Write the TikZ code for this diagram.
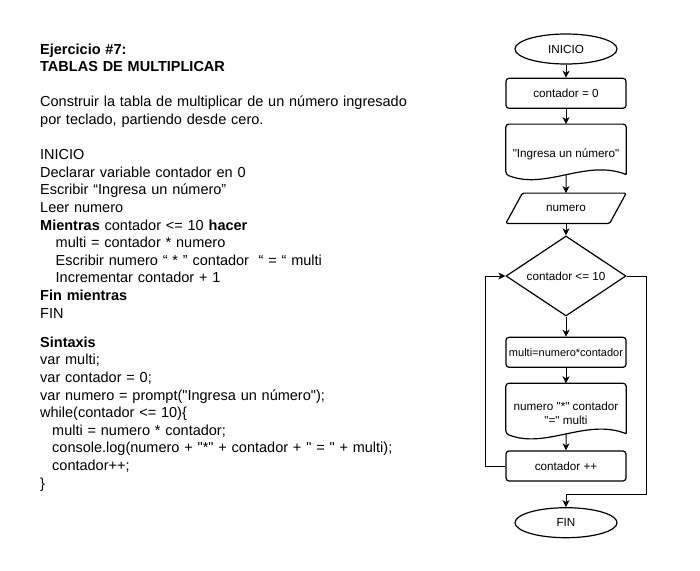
\documentclass[tikz,border=0pt]{standalone}
\usepackage{fontspec}
\setmainfont{Liberation Sans}[Ligatures=TeXOff]
\usetikzlibrary{shapes.geometric,arrows.meta}

\tikzset{
  texto/.style={anchor=base west, inner sep=0pt, text width=440pt, align=left,
    font=\fontsize{14.5}{17.6}\selectfont},
  linea/.style={line width=1.2pt},
  caja/.style={draw, linea, rectangle, rounded corners=3pt, minimum width=120,
    minimum height=30, inner sep=1pt, font=\fontsize{11.7}{14}\selectfont},
  terminal/.style={draw, linea, ellipse, minimum width=102, minimum height=30,
    inner sep=1pt, font=\fontsize{11.7}{14}\selectfont},
  documento/.style={minimum width=120, minimum height=60, inner sep=0pt,
    align=center, font=\fontsize{11.7}{14}\selectfont},
  datos/.style={minimum width=120, minimum height=30, inner sep=1pt,
    font=\fontsize{11.7}{14}\selectfont},
  decision/.style={draw, linea, diamond, aspect=1.5, minimum width=120,
    minimum height=80, inner sep=0pt, font=\fontsize{11.7}{14}\selectfont},
  flecha/.style={line width=1pt, -{Stealth[length=7pt,width=7pt,inset=2pt]}}
}

% contorno de documento con borde ondulado
\newcommand{\hoja}[2]{%
  \draw[linea, rounded corners=3pt] ([yshift=10pt]#1.south east) -- (#1.north east)
    -- (#1.north west) -- ([yshift=10pt]#1.south west) [sharp corners]
    .. controls +(40,16) and +(-40,-16) .. ([yshift=10pt]#1.south east)
    coordinate[pos=.5] (#2);}
% contorno de entrada de datos
\newcommand{\paralelo}[1]{%
  \draw[linea, rounded corners=1.5pt] ([xshift=16.6pt]#1.north west) -- (#1.north east)
    -- ([xshift=-16.6pt]#1.south east) -- (#1.south west) -- cycle;}

\begin{document}
\begin{tikzpicture}[x=1pt, y=-1pt]
  \useasboundingbox (0,0) rectangle (700,570);

  % texto
  \node[texto] (enunciado) at (40,54) {\textbf{Ejercicio \#7:}\\
    \textbf{TABLAS DE MULTIPLICAR}\\[17.6pt]
    Construir la tabla de multiplicar de un número ingresado\\
    por teclado, partiendo desde cero.\\[17.6pt]
    INICIO\\
    Declarar variable contador en 0\\
    Escribir “Ingresa un número”\\
    Leer numero\\
    \textbf{Mientras} contador <= 10 \textbf{hacer}\\
    \hspace*{15.5pt}multi = contador * numero\\
    \hspace*{15.5pt}Escribir numero “ * ” contador~ “ = “ multi\\
    \hspace*{15.5pt}Incrementar contador + 1\\
    \textbf{Fin mientras}\\
    FIN};
  \node[texto] (sintaxis) at (40,347.3) {\textbf{Sintaxis}\\
    var multi;\\
    var contador = 0;\\
    var numero = prompt("Ingresa un número");\\
    while(contador <= 10)\{\\
    \hspace*{12pt}multi = numero * contador;\\
    \hspace*{12pt}console.log(numero + "*" + contador + " = " + multi);\\
    \hspace*{12pt}contador++;\\
    \}};

  % diagrama de flujo
  \node[terminal] (inicio) at (566,49) {INICIO};
  \node[caja] (cero) at (566,93.3) {contador = 0};
  \node[documento] (pedir) at (566,154.3) {"Ingresa un número"};
  \hoja{pedir}{pedir-b}
  \node[datos] (leer) at (566,208.3) {numero};
  \paralelo{leer}
  \node[decision] (condicion) at (566,276) {contador <= 10};
  \node[caja, font=\fontsize{11}{13}\selectfont] (multi) at (566,352.3) {multi=numero*contador};
  \node[documento] (mostrar) at (566,413.5) {numero "*" contador\\"=" multi};
  \hoja{mostrar}{mostrar-b}
  \node[caja] (incremento) at (566,466) {contador ++};
  \node[terminal] (fin) at (566,522.7) {FIN};

  \coordinate (retorno) at (485.7,466);
  \coordinate (salida) at (646,494.3);

  \draw[flecha] (inicio) -- (cero);
  \draw[flecha] (cero) -- (pedir);
  \draw[flecha] (pedir-b) -- (leer);
  \draw[flecha] (leer) -- (condicion);
  \draw[flecha] (condicion) -- (multi);
  \draw[flecha] (multi) -- (mostrar);
  \draw[flecha] (mostrar-b) -- (incremento);
  \draw[flecha] (incremento.west) -- (retorno) |- (condicion.west);
  \draw[flecha] (condicion.east) -| (salida) -| (fin.north);
\end{tikzpicture}
\end{document}
